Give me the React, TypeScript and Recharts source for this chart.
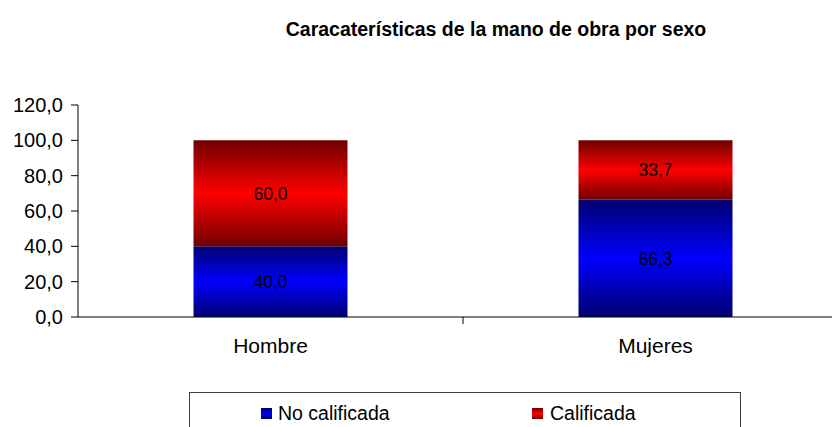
import React from "react";
import { BarChart, Bar, XAxis, YAxis, LabelList } from "recharts";

const categories = ["Hombre", "Mujeres"];
const noCalificada = [40.0, 66.3];
const calificada = [60.0, 33.7];
const yTicks = [0, 20, 40, 60, 80, 100, 120];
const seriesNames = ["No calificada", "Calificada"];

const data = categories.map((c, i) => ({ name: c, noCal: noCalificada[i], cal: calificada[i] }));

const FONT = "'Liberation Sans', Arial, sans-serif";
const fmt = (v: any) => Number(v).toFixed(1).replace(".", ",");

const XTick = (props: any) => {
  const { x, y, payload, index } = props;
  const off = payload && payload.offset ? payload.offset : 192;
  return (
    <g>
      {index > 0 ? <line x1={x - off} y1={y - 8} x2={x - off} y2={y - 1} stroke="#000" /> : null}
      <text x={x} y={y + 28} textAnchor="middle" fill="#000" fontSize={21} fontFamily={FONT}>
        {payload.value}
      </text>
    </g>
  );
};

export default function App() {
  return (
    <div style={{ position: "absolute", left: 0, top: 0, width: 832, height: 427, overflow: "hidden", background: "#fff" }}>
      <div style={{ position: "absolute", left: 0, top: 18, width: 992, textAlign: "center", fontFamily: FONT, fontWeight: "bold", fontSize: 19.5, color: "#000", whiteSpace: "nowrap" }}>
        Caracaterísticas de la mano de obra por sexo
      </div>
      <BarChart
        width={848}
        height={427}
        data={data}
        margin={{ top: 105, right: 0, left: 0, bottom: 80 }}
        barCategoryGap="30%"
      >
        <defs>
          <linearGradient id="gBlue" x1="0" y1="0" x2="0" y2="1">
            <stop offset="0%" stopColor="#000070" />
            <stop offset="50%" stopColor="#0000ff" />
            <stop offset="100%" stopColor="#000070" />
          </linearGradient>
          <linearGradient id="gRed" x1="0" y1="0" x2="0" y2="1">
            <stop offset="0%" stopColor="#700000" />
            <stop offset="50%" stopColor="#ff0000" />
            <stop offset="100%" stopColor="#700000" />
          </linearGradient>
        </defs>
        <YAxis
          width={78}
          domain={[0, 120]}
          ticks={yTicks}
          interval={0}
          tickFormatter={fmt}
          stroke="#000"
          tickSize={7}
          tickMargin={8}
          tick={{ fill: "#000", fontSize: 20, fontFamily: FONT }}
        />
        <XAxis dataKey="name" stroke="#000" tickLine={false} tick={<XTick />} interval={0} height={30} />
        <Bar dataKey="noCal" stackId="a" fill="url(#gBlue)" isAnimationActive={false}>
          <LabelList dataKey="noCal" position="center" formatter={fmt} fill="#000" fontSize={17.5} fontFamily={FONT} />
        </Bar>
        <Bar dataKey="cal" stackId="a" fill="url(#gRed)" isAnimationActive={false}>
          <LabelList dataKey="cal" position="center" formatter={fmt} fill="#000" fontSize={17.5} fontFamily={FONT} />
        </Bar>
      </BarChart>
      <div style={{ position: "absolute", left: 189, top: 392, width: 552, height: 60, border: "1px solid #404040", boxSizing: "border-box", fontFamily: FONT, fontSize: 19.5, color: "#000" }}>
        <span style={{ position: "absolute", left: 71, top: 15, width: 11, height: 11, background: "linear-gradient(#000070,#0000ff,#000070)" }} />
        <span style={{ position: "absolute", left: 88, top: 9, lineHeight: "normal", whiteSpace: "nowrap" }}>{seriesNames[0]}</span>
        <span style={{ position: "absolute", left: 342, top: 15, width: 11, height: 11, background: "linear-gradient(#700000,#ff0000,#700000)" }} />
        <span style={{ position: "absolute", left: 360, top: 9, lineHeight: "normal", whiteSpace: "nowrap" }}>{seriesNames[1]}</span>
      </div>
    </div>
  );
}
